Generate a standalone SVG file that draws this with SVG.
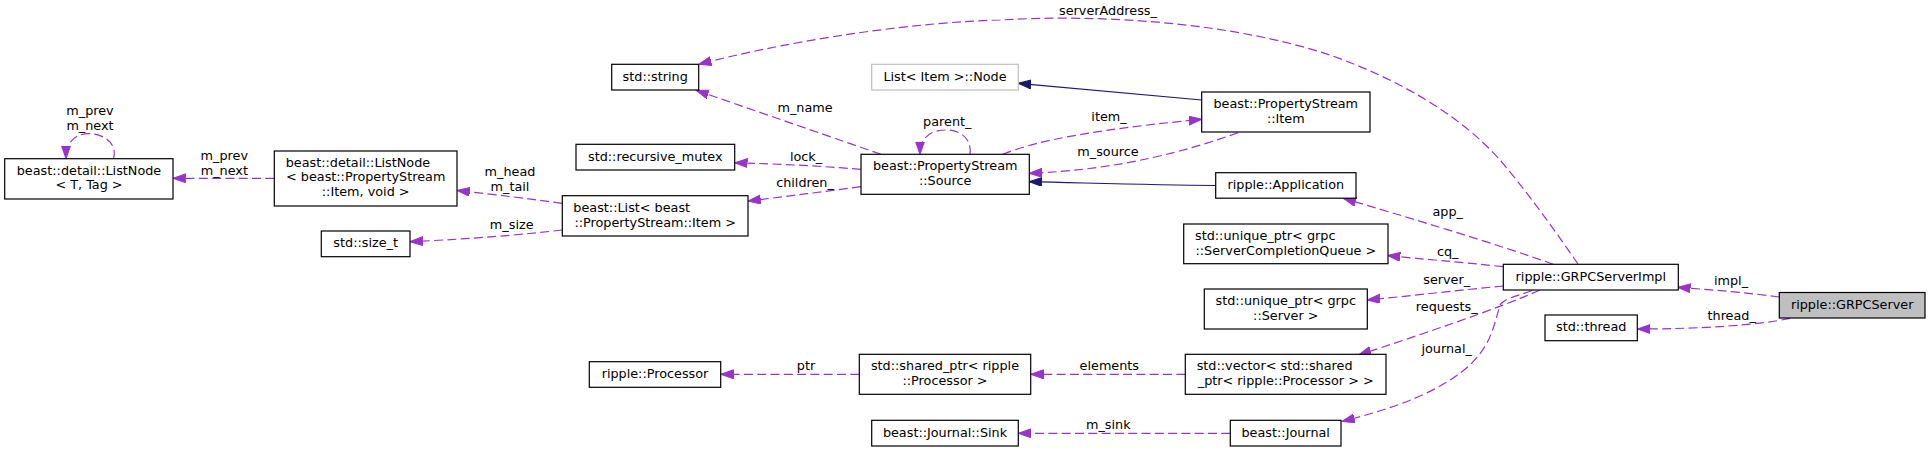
<svg xmlns="http://www.w3.org/2000/svg" width="1931" height="452" viewBox="0 0 1931 452">
<style>
text{font-family:"DejaVu Sans","Liberation Sans",sans-serif;font-size:12.8px;fill:#000}
.m{text-anchor:middle}
.s{text-anchor:start}
.n rect{fill:#fff;stroke:#000;stroke-width:1.2}
.n .g{stroke:#bfbfbf}
.n .r{fill:#bfbfbf}
.e path{fill:none;stroke:#9a32cd;stroke-width:1.2;stroke-dasharray:9,4.3}
.e path.i{stroke:#191970;stroke-dasharray:none}
</style>
<defs>
<marker id="ap" markerWidth="14" markerHeight="10" refX="12.8" refY="4.5" orient="auto" markerUnits="userSpaceOnUse"><path d="M0,0 L12.8,4.5 L0,9 z" fill="#9a32cd" stroke="#9a32cd" stroke-width="1"/></marker>
<marker id="an" markerWidth="14" markerHeight="10" refX="12.8" refY="4.5" orient="auto" markerUnits="userSpaceOnUse"><path d="M0,0 L12.8,4.5 L0,9 z" fill="#191970" stroke="#191970" stroke-width="1"/></marker>
</defs>
<g id="connectors" class="e">
<path d="M1779.3,297 C1750,293 1715,290 1677.7,287.3" marker-end="url(#ap)"/>
<text class="m" x="1731" y="285">impl_</text>
<path d="M1790,318.3 C1760,325 1700,329 1637.5,329" marker-end="url(#ap)"/>
<text class="m" x="1731.7" y="319.5">thread_</text>
<path d="M1578,264 C1560,238 1530,195 1500,160 C1460,115 1400,80 1330,55 C1230,22 1100,14 1000,20 C920,22 800,38 698.7,64.3" marker-end="url(#ap)"/>
<text class="m" x="1108" y="15">serverAddress_</text>
<path d="M881,154.3 L696,90.2" marker-end="url(#ap)"/>
<text class="m" x="805" y="112">m_name</text>
<path d="M861,169.3 C820,166 780,164 734.7,162.7" marker-end="url(#ap)"/>
<text class="m" x="806" y="160.5">lock_</text>
<path d="M861,186.7 C820,192 790,196 748,201" marker-end="url(#ap)"/>
<text class="m" x="805" y="187">children_</text>
<path d="M1003,154.3 C1030,143 1080,131 1201.7,119.3" marker-end="url(#ap)"/>
<text class="m" x="1109" y="121">item_</text>
<path d="M1238,132.7 C1190,150 1120,170 1029.3,173.3" marker-end="url(#ap)"/>
<text class="m" x="1108" y="155.5">m_source</text>
<path class="i" d="M1201.7,100 L1018.3,83.3" marker-end="url(#an)"/>
<path class="i" d="M1215.7,185.5 C1150,185 1090,183 1029.3,181.7" marker-end="url(#an)"/>
<path d="M1553.3,264.3 C1500,245 1400,215 1343.3,198.3" marker-end="url(#ap)"/>
<text class="m" x="1447.7" y="216">app_</text>
<path d="M1503.3,266.7 C1460,262 1420,259 1387.5,255.5" marker-end="url(#ap)"/>
<text class="m" x="1447.7" y="256">cq_</text>
<path d="M1503.3,286 C1460,290 1410,296 1367.3,300" marker-end="url(#ap)"/>
<text class="m" x="1446.7" y="284">server_</text>
<path d="M1540,290 C1500,308 1420,335 1358.5,355" marker-end="url(#ap)"/>
<text class="m" x="1446.7" y="310.7">requests_</text>
<path d="M1532,290.5 C1515,297 1505,298 1500,305 C1493,330 1490,345 1470,365 C1440,392 1395,408 1342,421.5" marker-end="url(#ap)"/>
<text class="m" x="1446.7" y="352.5">journal_</text>
<path d="M1185.3,374.3 L1030.7,374.3" marker-end="url(#ap)"/>
<text class="m" x="1109.3" y="370">elements</text>
<path d="M859.3,374.3 L720.7,374.3" marker-end="url(#ap)"/>
<text class="m" x="806" y="370">ptr</text>
<path d="M1230.3,433.3 L1018.3,433.3" marker-end="url(#ap)"/>
<text class="m" x="1108.3" y="428.5">m_sink</text>
<path d="M562.3,203.3 C530,199 500,195 457,190.5" marker-end="url(#ap)"/>
<text class="m" x="510" y="176">m_head</text>
<text class="m" x="510" y="190.6">m_tail</text>
<path d="M562.3,230 C520,235 470,239 410,241.7" marker-end="url(#ap)"/>
<text class="m" x="511.7" y="228.5">m_size</text>
<path d="M274.3,178.3 L173,178.3" marker-end="url(#ap)"/>
<text class="m" x="224.3" y="160">m_prev</text>
<text class="m" x="224.3" y="174.7">m_next</text>
<path d="M113.5,158.7 C118,145 105,133.7 89,133.7 C75,133.7 66,142 66,158.7" marker-end="url(#ap)"/>
<text class="m" x="90" y="115">m_prev</text>
<text class="m" x="90" y="129.7">m_next</text>
<path d="M970,154.3 C972,140 962,130 946,130 C930,130 920,138 920,154.3" marker-end="url(#ap)"/>
<text class="m" x="947.3" y="126">parent_</text>
</g>
<g class="n">
<g id="n_listnode_t"><rect x="4.7" y="158.7" width="168.3" height="40.3"/><text class="m" x="89" y="174.5">beast::detail::ListNode</text><text class="m" x="89" y="189">&lt; T, Tag &gt;</text></g>
<g id="n_listnode_item"><rect x="274.3" y="151" width="182.7" height="55"/><text class="s" x="285.7" y="166.7">beast::detail::ListNode</text><text class="m" x="365.7" y="181.4">&lt; beast::PropertyStream</text><text class="m" x="365.7" y="196">::Item, void &gt;</text></g>
<g id="n_size_t"><rect x="321.3" y="231" width="88.7" height="25.7"/><text class="m" x="365.7" y="247.3">std::size_t</text></g>
<g id="n_string"><rect x="611.7" y="64.3" width="87" height="25.7"/><text class="m" x="655.2" y="80.7">std::string</text></g>
<g id="n_list_node"><rect class="g" x="871.7" y="64.3" width="146.6" height="25.7"/><text class="m" x="945" y="80.7">List&lt; Item &gt;::Node</text></g>
<g id="n_mutex"><rect x="576" y="144.3" width="158.7" height="25.7"/><text class="m" x="655.3" y="160.7">std::recursive_mutex</text></g>
<g id="n_list"><rect x="562.3" y="195.7" width="185.7" height="40.3"/><text class="s" x="573.3" y="212">beast::List&lt; beast</text><text class="m" x="655.2" y="226.7">::PropertyStream::Item &gt;</text></g>
<g id="n_source"><rect x="861" y="154.3" width="168.3" height="40"/><text class="m" x="945.2" y="169.7">beast::PropertyStream</text><text class="m" x="945.2" y="184.5">::Source</text></g>
<g id="n_item"><rect x="1201.7" y="92" width="168.3" height="40"/><text class="m" x="1285.8" y="108">beast::PropertyStream</text><text class="m" x="1285.8" y="122.7">::Item</text></g>
<g id="n_application"><rect x="1215.7" y="172.7" width="140.3" height="25.5"/><text class="m" x="1285.8" y="188.7">ripple::Application</text></g>
<g id="n_uptr_cq"><rect x="1183.7" y="224" width="204.3" height="39.7"/><text class="s" x="1195" y="240">std::unique_ptr&lt; grpc</text><text class="m" x="1285.8" y="254.5">::ServerCompletionQueue &gt;</text></g>
<g id="n_uptr_server"><rect x="1204.3" y="289" width="163" height="40"/><text class="m" x="1285.8" y="305">std::unique_ptr&lt; grpc</text><text class="m" x="1285.8" y="319.7">::Server &gt;</text></g>
<g id="n_vector"><rect x="1185.3" y="354.3" width="200.7" height="40"/><text class="s" x="1196.7" y="370">std::vector&lt; std::shared</text><text class="m" x="1285.7" y="384.5">_ptr&lt; ripple::Processor &gt; &gt;</text></g>
<g id="n_journal"><rect x="1230.3" y="420.3" width="110.7" height="25.7"/><text class="m" x="1285.7" y="436.5">beast::Journal</text></g>
<g id="n_sink"><rect x="871.7" y="420.3" width="146.6" height="25.7"/><text class="m" x="945" y="436.5">beast::Journal::Sink</text></g>
<g id="n_sptr"><rect x="859.3" y="354.3" width="171.4" height="40"/><text class="m" x="945" y="370">std::shared_ptr&lt; ripple</text><text class="m" x="945" y="384.5">::Processor &gt;</text></g>
<g id="n_processor"><rect x="589.3" y="361.7" width="131.4" height="25.6"/><text class="m" x="655" y="377.8">ripple::Processor</text></g>
<g id="n_grpcimpl"><rect x="1503.3" y="264.3" width="175" height="25.7"/><text class="m" x="1590.8" y="280.5">ripple::GRPCServerImpl</text></g>
<g id="n_grpcserver"><rect class="r" x="1779.3" y="292.5" width="145.7" height="25.5"/><text class="m" x="1852.2" y="308.5">ripple::GRPCServer</text></g>
<g id="n_thread"><rect x="1545" y="315" width="92.3" height="25.7"/><text class="m" x="1591.2" y="331">std::thread</text></g>
</g>
</svg>
